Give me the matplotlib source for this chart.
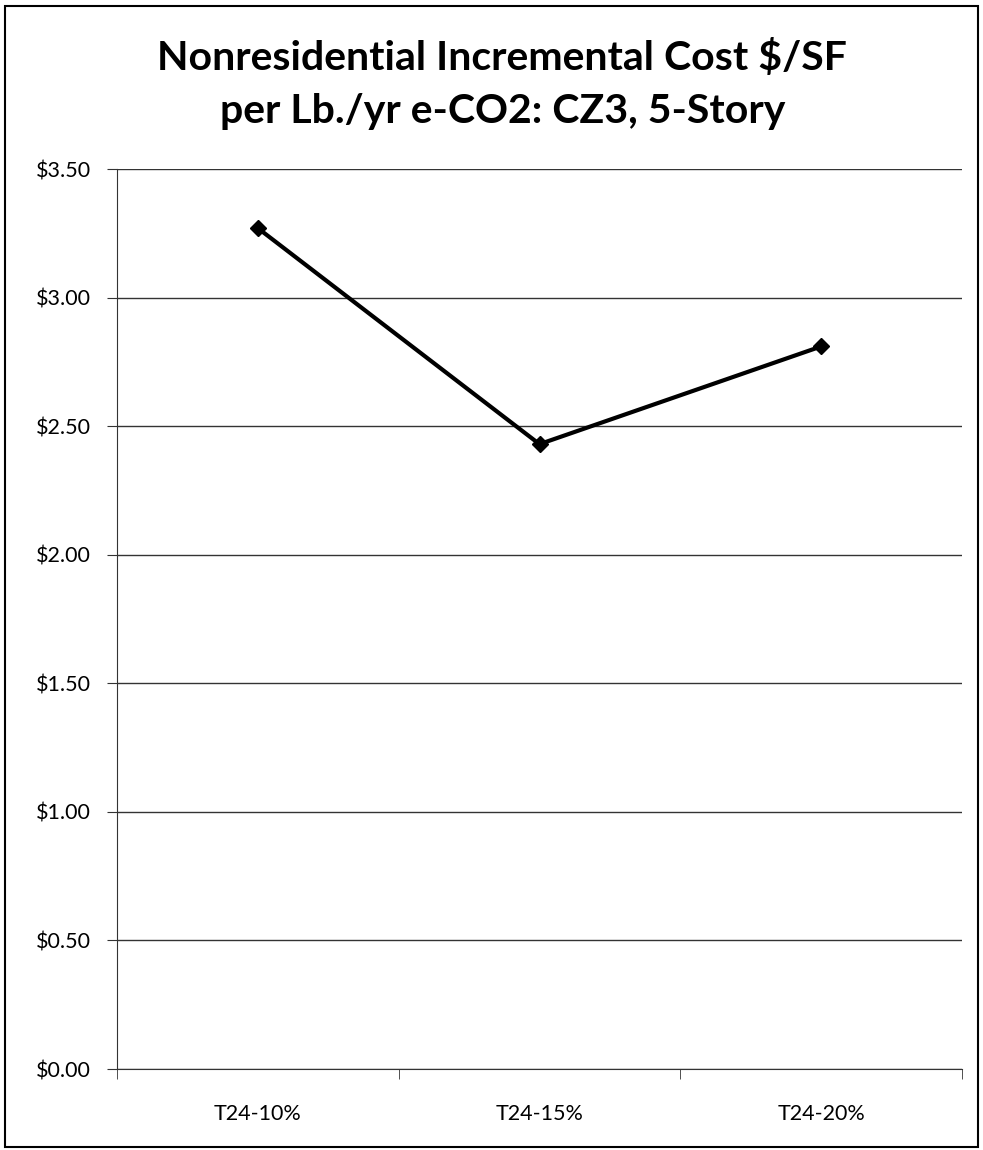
import numpy as np
import matplotlib
matplotlib.use("Agg")
import matplotlib.pyplot as plt
from matplotlib.ticker import FuncFormatter, FixedLocator

categories = ["T24-10%", "T24-15%", "T24-20%"]
cost = [3.27, 2.43, 2.81]
yticks = [0.0, 0.5, 1.0, 1.5, 2.0, 2.5, 3.0, 3.5]

plt.rcParams['font.family'] = ['Lato', 'DejaVu Sans']

fig = plt.figure(figsize=(9.83, 11.5), dpi=100)
ax = fig.add_axes([117/983, 1 - 1069/1150, (962 - 117)/983, (1069 - 169)/1150])

x = np.arange(len(categories))
ax.plot(x, cost, color='black', lw=3, marker='D', ms=8, zorder=3)

ax.set_xlim(-0.5, len(categories) - 0.5)
ax.set_ylim(0, 3.5)
ax.set_yticks(yticks)
ax.yaxis.set_major_formatter(FuncFormatter(lambda v, p: f"${v:.2f}"))
ax.grid(axis='y', color='#333333', lw=1.0)
ax.set_axisbelow(True)

ax.set_xticks(x)
ax.set_xticklabels(categories, fontsize=15.5)
ax.xaxis.set_minor_locator(FixedLocator(np.arange(-0.5, len(categories), 1.0)))
ax.tick_params(axis='x', which='major', length=0, pad=25)
ax.tick_params(axis='x', which='minor', length=7, direction='out', color='#333333')
ax.tick_params(axis='y', length=7, direction='out', color='#333333', labelsize=15.5, pad=12)

for s in ['top', 'right']:
    ax.spines[s].set_visible(False)
ax.spines['left'].set_color('#333333')
ax.spines['bottom'].set_color('#333333')

fig.text(0.511, 1 - 70/1150, "Nonresidential Incremental Cost $/SF", ha='center', va='baseline',
         fontsize=29.5, fontweight='bold')
fig.text(0.511, 1 - 123/1150, "per Lb./yr e-CO2: CZ3, 5-Story", ha='center', va='baseline',
         fontsize=29.5, fontweight='bold')

# outer chart border
fig.patches.append(plt.Rectangle((0.005, 0.003), 0.99, 0.992, transform=fig.transFigure,
                                 fill=False, edgecolor='black', lw=1.5))

fig.savefig("out.png", dpi=100)
